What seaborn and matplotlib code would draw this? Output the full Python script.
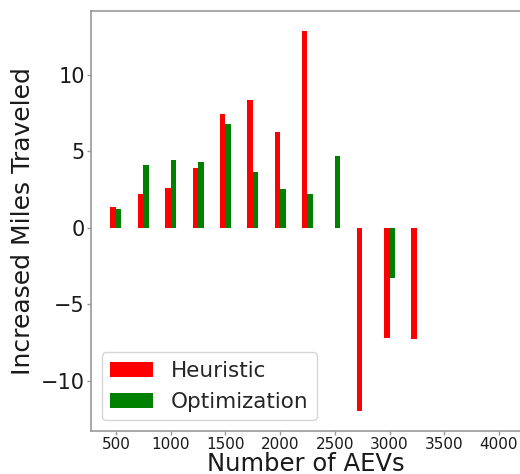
import matplotlib
matplotlib.use("Agg")
import matplotlib.pyplot as plt
import seaborn as sns
import pandas as pd

# Fleet sizes and the extra miles traveled under each dispatch strategy
heuristic_fleet = [500, 750, 1000, 1250, 1500, 1750, 2000, 2250, 2750, 3000, 3250]
heuristic_miles = [1.37, 2.21, 2.58, 3.93, 7.43, 8.38, 6.25, 12.9, -11.97, -7.19, -7.23]

optimization_fleet = [500, 750, 1000, 1250, 1500, 1750, 2000, 2250, 2500, 3000]
optimization_miles = [1.26, 4.10, 4.43, 4.30, 6.82, 3.65, 2.52, 2.21, 4.69, -3.26]

methods = ["Heuristic", "Optimization"]
method_colors = ["#ff0000", "#008000"]
x_ticks = [500, 1000, 1500, 2000, 2500, 3000, 3500, 4000]
y_ticks = [-10, -5, 0, 5, 10]

df = pd.concat([
    pd.DataFrame({"fleet": heuristic_fleet, "miles": heuristic_miles, "method": methods[0]}),
    pd.DataFrame({"fleet": optimization_fleet, "miles": optimization_miles, "method": methods[1]}),
], ignore_index=True)

sns.set_style("white")
fig = plt.figure(figsize=(5.2, 4.74), dpi=100)
ax = fig.add_axes([91 / 520, 1 - 431 / 474, 1 - 91 / 520, (431 - 11) / 474])

sns.barplot(data=df, x="fleet", y="miles", hue="method", hue_order=methods,
            palette=method_colors, saturation=1, native_scale=True, width=0.4,
            linewidth=0, errorbar=None, ax=ax)

ax.set_xlim(272, 4192)
ax.set_ylim(-13.27, 14.18)
ax.set_xticks(x_ticks)
ax.set_yticks(y_ticks)
ax.tick_params(axis="x", labelsize=11, length=3, pad=1.5, color="0.6", labelcolor="0.1", width=1)
ax.tick_params(axis="y", labelsize=15, length=3, pad=1.5, color="0.6", labelcolor="0.1", width=1)
ax.tick_params(bottom=True, left=True)

for side in ["left", "top", "bottom"]:
    ax.spines[side].set_color("0.6")
    ax.spines[side].set_linewidth(1.2)
ax.spines["right"].set_visible(False)

ax.set_xlabel("Number of AEVs", fontsize=17.5, color="0.1", labelpad=0)
ax.set_ylabel("Increased Miles Traveled", fontsize=18, color="0.1", labelpad=4)

ax.legend(loc="lower left", fontsize=15.5, frameon=True)

fig.savefig("out.png", dpi=100)
